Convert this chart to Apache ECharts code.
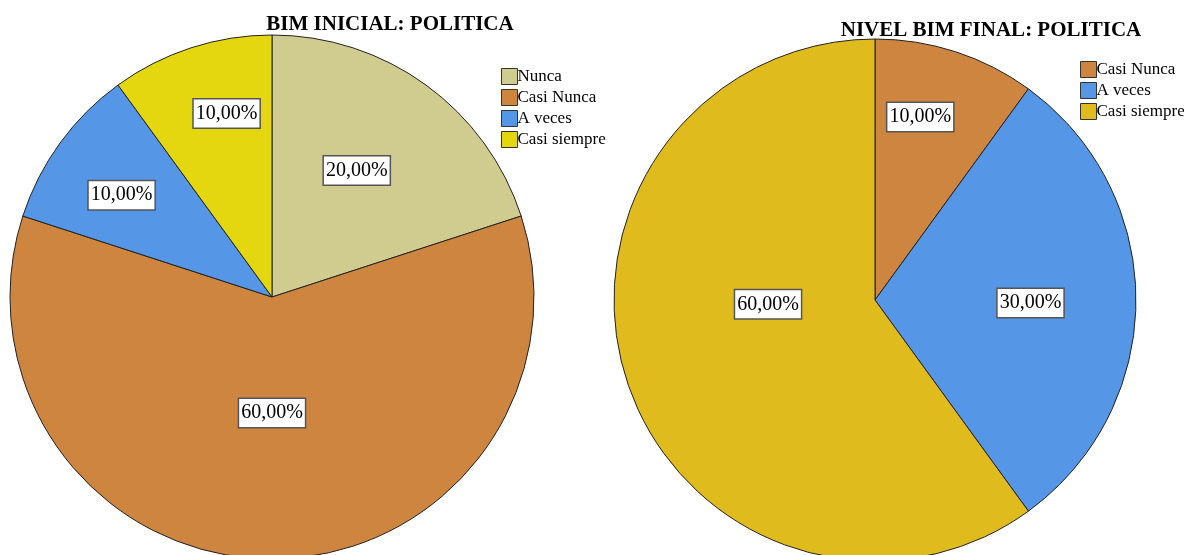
<!DOCTYPE html>
<html>
<head>
<meta charset="utf-8">
<script src="https://cdn.jsdelivr.net/npm/echarts@6/dist/echarts.min.js"></script>
<style>html,body{margin:0;padding:0;background:#fff}#c{width:1184px;height:555px}</style>
</head>
<body>
<div id="c"></div>
<script>
var leftTitle = 'BIM INICIAL: POLITICA';
var rightTitle = 'NIVEL BIM FINAL: POLITICA';
var leftCategories = ['Nunca', 'Casi Nunca', 'A veces', 'Casi siempre'];
var leftValues = [20, 60, 10, 10];
var rightCategories = ['Casi Nunca', 'A veces', 'Casi siempre'];
var rightValues = [10, 30, 60];

var colorMap = {
  'Nunca': '#D0CB8F',
  'Casi Nunca': '#CD853F',
  'A veces': '#5596E6',
  'Casi siempre': '#E4D710'
};
var rightColorMap = {
  'Casi Nunca': '#CD853F',
  'A veces': '#5596E6',
  'Casi siempre': '#E0BB1E'
};
// label nudges (style)
var leftOffsets = [[6, -18], [0, -18], [-42, -23], [-4, -56]];
var rightOffsets = [[4, -56], [22, 3], [20, -37]];

var serif = '"Liberation Serif", "DejaVu Serif", serif';

function fmt(p) { return p.value.toFixed(2).replace('.', ',') + '%'; }

function buildData(cats, vals, cmap, offs) {
  return cats.map(function (c, i) {
    return {
      name: c, value: vals[i],
      itemStyle: { color: cmap[c] },
      label: { offset: offs[i] }
    };
  });
}

var labelStyle = {
  show: true, position: 'inside', formatter: fmt,
  fontFamily: serif, fontSize: 20, color: '#000',
  backgroundColor: '#fff', borderColor: '#555', borderWidth: 1.5,
  padding: [5, 2, 3, 2]
};

var chart = echarts.init(document.getElementById('c'));
chart.setOption({
  animation: false,
  title: [
    { text: leftTitle, left: 385, top: 9, textAlign: 'center',
      textStyle: { fontFamily: serif, fontSize: 21, fontWeight: 'bold', color: '#000' } },
    { text: rightTitle, left: 986, top: 15, textAlign: 'center',
      textStyle: { fontFamily: serif, fontSize: 21, fontWeight: 'bold', color: '#000' } }
  ],
  legend: [
    { data: leftCategories, orient: 'vertical', left: 496, top: 63, itemWidth: 16, itemHeight: 16,
      itemGap: 4, icon: 'rect', selectedMode: false,
      itemStyle: { borderColor: '#333', borderWidth: 1 },
      textStyle: { fontFamily: serif, fontSize: 17, color: '#000', padding: [0, 0, 0, -5] } },
    { data: rightCategories.map(function (c) { return { name: c, itemStyle: { color: rightColorMap[c] } }; }),
      orient: 'vertical', left: 1075, top: 56, itemWidth: 16, itemHeight: 16,
      itemGap: 4, icon: 'rect', selectedMode: false,
      itemStyle: { borderColor: '#333', borderWidth: 1 },
      textStyle: { fontFamily: serif, fontSize: 17, color: '#000', padding: [0, 0, 0, -5] } }
  ],
  series: [
    { type: 'pie', center: [272, 297], radius: [0, 262], startAngle: 90, clockwise: true,
      legendHoverLink: false, avoidLabelOverlap: false,
      itemStyle: { borderColor: '#222', borderWidth: 1 },
      label: labelStyle, labelLine: { show: false },
      data: buildData(leftCategories, leftValues, colorMap, leftOffsets) },
    { type: 'pie', center: [875, 300], radius: [0, 261], startAngle: 90, clockwise: true,
      legendHoverLink: false, avoidLabelOverlap: false,
      itemStyle: { borderColor: '#222', borderWidth: 1 },
      label: labelStyle, labelLine: { show: false },
      data: buildData(rightCategories, rightValues, rightColorMap, rightOffsets) }
  ]
});
</script>
</body>
</html>
